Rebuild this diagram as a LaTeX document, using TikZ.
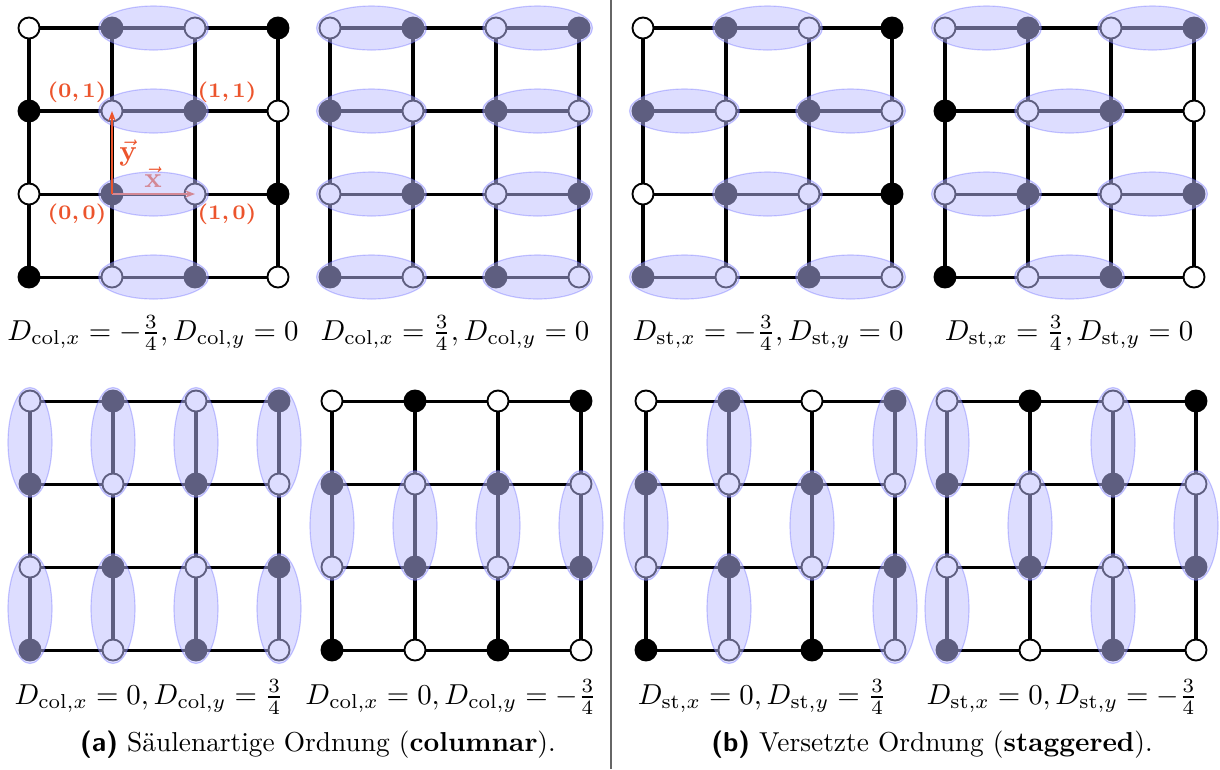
\documentclass[tikz,border=0pt]{standalone}
\usepackage{amsmath}
\usepackage{amssymb}
\usepackage{tikz}
\usetikzlibrary{arrows.meta}
\usetikzlibrary{calc}

\definecolor{vecred}{RGB}{236,84,44}
\definecolor{dimerblue}{RGB}{188,188,255}

\begin{document}
\begin{tikzpicture}[x=0.347pt, y=-0.347pt,
    site/.style={circle, draw=black, line width=0.65pt, minimum size=7.3pt, inner sep=0pt},
    site0/.style={site, fill=white},
    site1/.style={site, fill=black},
    bond/.style={line width=1.05pt},
    dimer/.style={fill=dimerblue, fill opacity=0.5, draw=blue!70, draw opacity=0.3, line width=0.4pt},
    vecarrow/.style={-{Stealth[length=3.4pt]}, line width=0.9pt, draw=vecred},
    veclabel/.style={text=vecred, inner sep=1pt},
    cornerlabel/.style={veclabel, font=\fontsize{7.2}{8}\selectfont\bfseries},
    ordlabel/.style={inner sep=0pt}]
    \useasboundingbox (0,0) rectangle (1220,769);

    % lattices
    \foreach \k/\ox/\oy in {1/29/28, 2/330/28, 3/643/28, 4/945/28,
                            5/30/401, 6/332/401, 7/646/401, 8/947/401} {
        \foreach \i in {0,...,3} {
            \foreach \j in {0,...,3} {
                \pgfmathtruncatemacro\parity{mod(\i+\j,2)}
                \node[site\parity] (p\k-\i-\j) at (\ox+83*\i, \oy+83*\j) {};
            }
        }
        \foreach \i in {0,...,3} {
            \foreach \j [count=\jj] in {0,...,2} {
                \draw[bond] (p\k-\i-\j) -- (p\k-\i-\jj);
                \draw[bond] (p\k-\j-\i) -- (p\k-\jj-\i);
            }
        }
    }

    % x vector (under the dimer)
    \draw[vecarrow] (p1-1-2.center) -- (p1-2-2.center);
    \node[veclabel, anchor=south] (xlab) at (153,191) {$\vec{\mathbf{x}}$};

    % horizontal dimers: panel/row/left column
    \foreach \k/\j/\a [evaluate=\a as \b using int(\a+1)] in
        {1/0/1, 1/1/1, 1/2/1, 1/3/1,
         2/0/0, 2/0/2, 2/1/0, 2/1/2, 2/2/0, 2/2/2, 2/3/0, 2/3/2,
         3/0/1, 3/1/0, 3/1/2, 3/2/1, 3/3/0, 3/3/2,
         4/0/0, 4/0/2, 4/1/1, 4/2/0, 4/2/2, 4/3/1}
        \path[dimer] ($(p\k-\a-\j)!0.5!(p\k-\b-\j)$) ellipse [x radius=55, y radius=22];

    % vertical dimers: panel/column/upper row
    \foreach \k/\i/\a [evaluate=\a as \b using int(\a+1)] in
        {5/0/0, 5/0/2, 5/1/0, 5/1/2, 5/2/0, 5/2/2, 5/3/0, 5/3/2,
         6/0/1, 6/1/1, 6/2/1, 6/3/1,
         7/0/1, 7/1/0, 7/1/2, 7/2/1, 7/3/0, 7/3/2,
         8/0/0, 8/0/2, 8/1/1, 8/2/0, 8/2/2, 8/3/1}
        \path[dimer] ($(p\k-\i-\a)!0.5!(p\k-\i-\b)$) ellipse [x radius=22, y radius=55];

    % y vector and unit cell corners
    \draw[vecarrow] (p1-1-2.center) -- (p1-1-1.center);
    \node[veclabel, anchor=west] (ylab) at (116,153) {$\vec{\mathbf{y}}$};
    \node[cornerlabel] (c01) at (77,92) {(0,\,1)};
    \node[cornerlabel] (c11) at (227,92) {(1,\,1)};
    \node[cornerlabel] (c00) at (77,214) {(0,\,0)};
    \node[cornerlabel] (c10) at (227,214) {(1,\,0)};

    % order parameters
    \node[ordlabel] (lab1) at (153,333) {$D_{\text{col},x}=-\frac{3}{4}, D_{\text{col},y}=0$};
    \node[ordlabel] (lab2) at (455,333) {$D_{\text{col},x}=\frac{3}{4}, D_{\text{col},y}=0$};
    \node[ordlabel] (lab3) at (768,333) {$D_{\text{st},x}=-\frac{3}{4}, D_{\text{st},y}=0$};
    \node[ordlabel] (lab4) at (1069,333) {$D_{\text{st},x}=\frac{3}{4}, D_{\text{st},y}=0$};
    \node[ordlabel] (lab5) at (149,697) {$D_{\text{col},x}=0, D_{\text{col},y}=\frac{3}{4}$};
    \node[ordlabel] (lab6) at (451,697) {$D_{\text{col},x}=0, D_{\text{col},y}=-\frac{3}{4}$};
    \node[ordlabel] (lab7) at (762,697) {$D_{\text{st},x}=0, D_{\text{st},y}=\frac{3}{4}$};
    \node[ordlabel] (lab8) at (1062,697) {$D_{\text{st},x}=0, D_{\text{st},y}=-\frac{3}{4}$};

    % subcaptions
    \node[font=\fontsize{9.5}{11}\selectfont] (capa) at (318,745)
        {{\sffamily\bfseries (a)} Säulenartige Ordnung (\textbf{columnar}).};
    \node[font=\fontsize{9.5}{11}\selectfont] (capb) at (932,745)
        {{\sffamily\bfseries (b)} Versetzte Ordnung (\textbf{staggered}).};

    \draw[gray!80!black, line width=0.5pt] (611,0) -- (611,769);
\end{tikzpicture}
\end{document}
